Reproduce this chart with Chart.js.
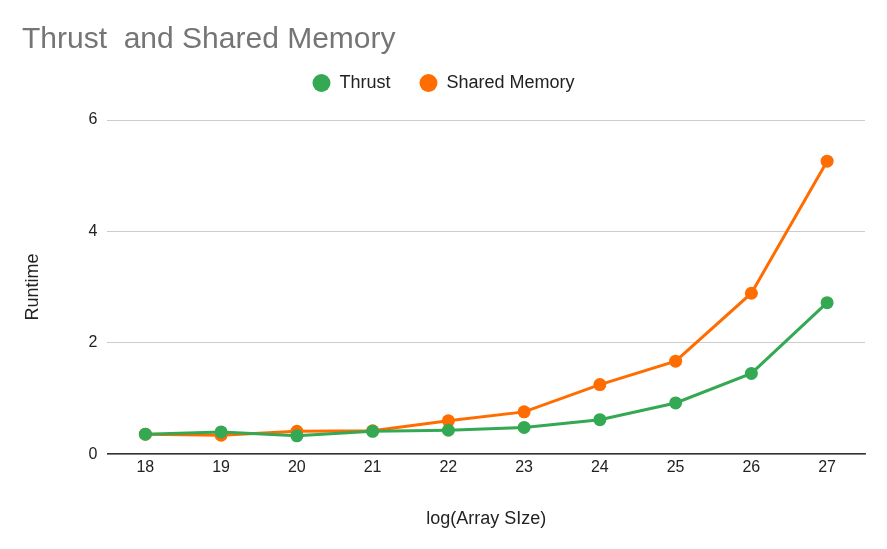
<!DOCTYPE html>
<html><head><meta charset="utf-8">
<script src="https://cdn.jsdelivr.net/npm/chart.js@4/dist/chart.umd.min.js"></script>
<style>html,body{margin:0;padding:0;background:#fff}#wrap{width:887px;height:549px}</style>
</head><body><div id="wrap"><canvas id="c" width="887" height="549"></canvas></div>
<script>
const categories = ['18','19','20','21','22','23','24','25','26','27'];
const thrust = [0.36, 0.40, 0.33, 0.41, 0.43, 0.48, 0.62, 0.92, 1.45, 2.72];
const sharedMemory = [0.36, 0.34, 0.41, 0.42, 0.60, 0.76, 1.25, 1.67, 2.89, 5.26];
const yTicks = [0, 2, 4, 6];

const F = '"Liberation Sans", Arial, sans-serif';
const legendGap = {
  id:'legendGap',
  beforeInit(chart){
    const fit = chart.legend.fit;
    chart.legend.fit = function(){ fit.bind(chart.legend)(); this.height += 18; };
  }
};
new Chart(document.getElementById('c'), {
  type: 'line',
  data: {
    labels: categories,
    datasets: [
      {label:'Thrust', data: thrust, borderColor:'#34a853', backgroundColor:'#34a853', borderWidth:3, pointRadius:6.5, pointHoverRadius:6.5, pointBorderWidth:0, tension:0},
      {label:'Shared Memory', data: sharedMemory, borderColor:'#ff6d01', backgroundColor:'#ff6d01', borderWidth:3, pointRadius:6.5, pointHoverRadius:6.5, pointBorderWidth:0, tension:0}
    ]
  },
  options: {
    responsive:false, animation:false, devicePixelRatio:1,
    layout:{padding:{top:0,left:22,right:22,bottom:19}},
    plugins:{
      title:{display:true, text:'Thrust  and Shared Memory', align:'start', color:'#757575', font:{family:F,size:30,weight:'normal'}, padding:{top:22,bottom:-13}},
      legend:{display:true, labels:{usePointStyle:true, pointStyle:'circle', boxWidth:18, boxHeight:12.7, padding:29, color:'#222', font:{family:F,size:18}}},
      tooltip:{enabled:false}
    },
    scales:{
      x:{offset:true, grid:{display:false, drawTicks:false}, border:{display:true,color:'#333',width:1.5},
         ticks:{color:'#222', font:{family:F,size:16}, padding:4},
         title:{display:true, text:'log(Array SIze)', color:'#222', font:{family:F,size:18}, padding:{top:27,bottom:0}}},
      y:{min:0, max:6, afterBuildTicks:(ax)=>{ax.ticks = yTicks.map(v=>({value:v}));},
         grid:{color:'#cccccc', drawTicks:false}, border:{display:false},
         ticks:{color:'#222', font:{family:F,size:16}, padding:10},
         title:{display:true, text:'Runtime', color:'#222', font:{family:F,size:18}, padding:{top:0,bottom:35}}}
    }
  },
  plugins:[legendGap]
});
</script></body></html>
